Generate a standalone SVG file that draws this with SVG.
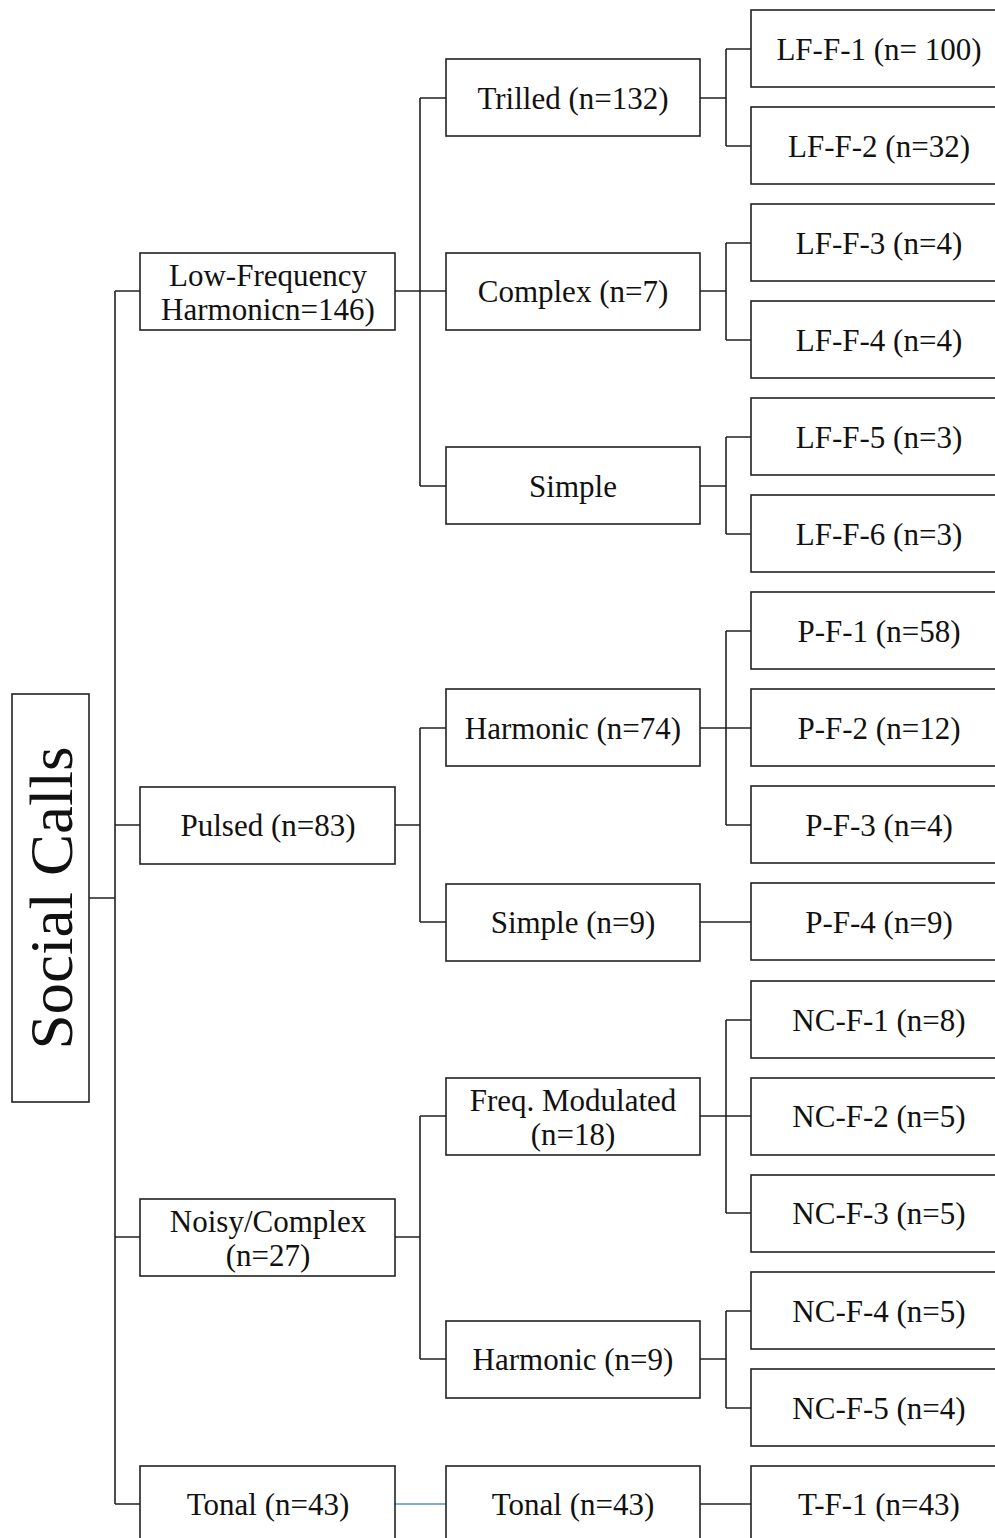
<svg xmlns="http://www.w3.org/2000/svg" width="995" height="1538" viewBox="0 0 995 1538">
<style>
.b{fill:#fff;stroke:#222;stroke-width:1.6}
.t{font-family:"Liberation Serif","Times New Roman",serif;font-size:31px;fill:#111;text-anchor:middle}
.c{fill:none;stroke:#222;stroke-width:1.6}
</style>
<rect width="995" height="1538" fill="#fff"/>
<g id="connectors">
<path class="c" d="M89,898 H115 M115,291 V1504 M115,291 H140 M115,825 H140 M115,1237 H140 M115,1504 H140"/>
<path class="c" d="M395,291 H420 M420,98 V486 M420,98 H446 M420,291 H446 M420,486 H446"/>
<path class="c" d="M395,825 H420 M420,728 V922 M420,728 H446 M420,922 H446"/>
<path class="c" d="M395,1237 H420 M420,1116 V1359 M420,1116 H446 M420,1359 H446"/>
<path d="M395,1504 H446" fill="none" stroke="#5b8fd0" stroke-width="1.6"/>
<path class="c" d="M700,98 H726 M726,49 V146 M726,49 H751 M726,146 H751"/>
<path class="c" d="M700,291 H726 M726,243 V340 M726,243 H751 M726,340 H751"/>
<path class="c" d="M700,486 H726 M726,437 V534 M726,437 H751 M726,534 H751"/>
<path class="c" d="M700,728 H726 M726,631 V825 M726,631 H751 M726,728 H751 M726,825 H751"/>
<path class="c" d="M700,922 H751"/>
<path class="c" d="M700,1116 H726 M726,1020 V1213 M726,1020 H751 M726,1116 H751 M726,1213 H751"/>
<path class="c" d="M700,1359 H726 M726,1311 V1408 M726,1311 H751 M726,1408 H751"/>
<path class="c" d="M700,1504 H751"/>
</g>
<g id="root"><rect class="b" x="12" y="694" width="77" height="408"/><text class="t" transform="translate(72,898) rotate(-90)" style="font-size:62px" textLength="303" lengthAdjust="spacingAndGlyphs">Social Calls</text></g>
<g id="n-lf"><rect class="b" x="140" y="253" width="255" height="77"/><text class="t" x="268" y="286">Low-Frequency</text><text class="t" x="268" y="320">Harmonicn=146)</text></g>
<g id="n-p"><rect class="b" x="140" y="787" width="255" height="77"/><text class="t" x="268" y="836">Pulsed (n=83)</text></g>
<g id="n-nc"><rect class="b" x="140" y="1199" width="255" height="77"/><text class="t" x="268" y="1232">Noisy/Complex</text><text class="t" x="268" y="1266">(n=27)</text></g>
<g id="n-t"><rect class="b" x="140" y="1466" width="255" height="90"/><text class="t" x="268" y="1515">Tonal (n=43)</text></g>
<g id="n-trilled"><rect class="b" x="446" y="59" width="254" height="77"/><text class="t" x="573" y="109">Trilled (n=132)</text></g>
<g id="n-complex"><rect class="b" x="446" y="253" width="254" height="77"/><text class="t" x="573" y="302">Complex (n=7)</text></g>
<g id="n-simple"><rect class="b" x="446" y="447" width="254" height="77"/><text class="t" x="573" y="497">Simple</text></g>
<g id="n-pharm"><rect class="b" x="446" y="689" width="254" height="77"/><text class="t" x="573" y="739">Harmonic (n=74)</text></g>
<g id="n-psimple"><rect class="b" x="446" y="884" width="254" height="77"/><text class="t" x="573" y="933">Simple (n=9)</text></g>
<g id="n-fm"><rect class="b" x="446" y="1078" width="254" height="77"/><text class="t" x="573" y="1111">Freq. Modulated</text><text class="t" x="573" y="1145">(n=18)</text></g>
<g id="n-ncharm"><rect class="b" x="446" y="1321" width="254" height="77"/><text class="t" x="573" y="1370">Harmonic (n=9)</text></g>
<g id="n-tonal2"><rect class="b" x="446" y="1466" width="254" height="90"/><text class="t" x="573" y="1515">Tonal (n=43)</text></g>
<g id="lf1"><rect class="b" x="751" y="10" width="260" height="77"/><text class="t" x="879" y="60">LF-F-1 (n= 100)</text></g>
<g id="lf2"><rect class="b" x="751" y="107" width="260" height="77"/><text class="t" x="879" y="157">LF-F-2 (n=32)</text></g>
<g id="lf3"><rect class="b" x="751" y="204" width="260" height="77"/><text class="t" x="879" y="254">LF-F-3 (n=4)</text></g>
<g id="lf4"><rect class="b" x="751" y="301" width="260" height="77"/><text class="t" x="879" y="351">LF-F-4 (n=4)</text></g>
<g id="lf5"><rect class="b" x="751" y="398" width="260" height="77"/><text class="t" x="879" y="448">LF-F-5 (n=3)</text></g>
<g id="lf6"><rect class="b" x="751" y="495" width="260" height="77"/><text class="t" x="879" y="545">LF-F-6 (n=3)</text></g>
<g id="pf1"><rect class="b" x="751" y="592" width="260" height="77"/><text class="t" x="879" y="642">P-F-1 (n=58)</text></g>
<g id="pf2"><rect class="b" x="751" y="689" width="260" height="77"/><text class="t" x="879" y="739">P-F-2 (n=12)</text></g>
<g id="pf3"><rect class="b" x="751" y="786" width="260" height="77"/><text class="t" x="879" y="836">P-F-3 (n=4)</text></g>
<g id="pf4"><rect class="b" x="751" y="883" width="260" height="77"/><text class="t" x="879" y="933">P-F-4 (n=9)</text></g>
<g id="ncf1"><rect class="b" x="751" y="981" width="260" height="77"/><text class="t" x="879" y="1031">NC-F-1 (n=8)</text></g>
<g id="ncf2"><rect class="b" x="751" y="1078" width="260" height="77"/><text class="t" x="879" y="1127">NC-F-2 (n=5)</text></g>
<g id="ncf3"><rect class="b" x="751" y="1175" width="260" height="77"/><text class="t" x="879" y="1224">NC-F-3 (n=5)</text></g>
<g id="ncf4"><rect class="b" x="751" y="1272" width="260" height="77"/><text class="t" x="879" y="1322">NC-F-4 (n=5)</text></g>
<g id="ncf5"><rect class="b" x="751" y="1369" width="260" height="77"/><text class="t" x="879" y="1419">NC-F-5 (n=4)</text></g>
<g id="tf1"><rect class="b" x="751" y="1466" width="260" height="90"/><text class="t" x="879" y="1515">T-F-1 (n=43)</text></g>
</svg>
